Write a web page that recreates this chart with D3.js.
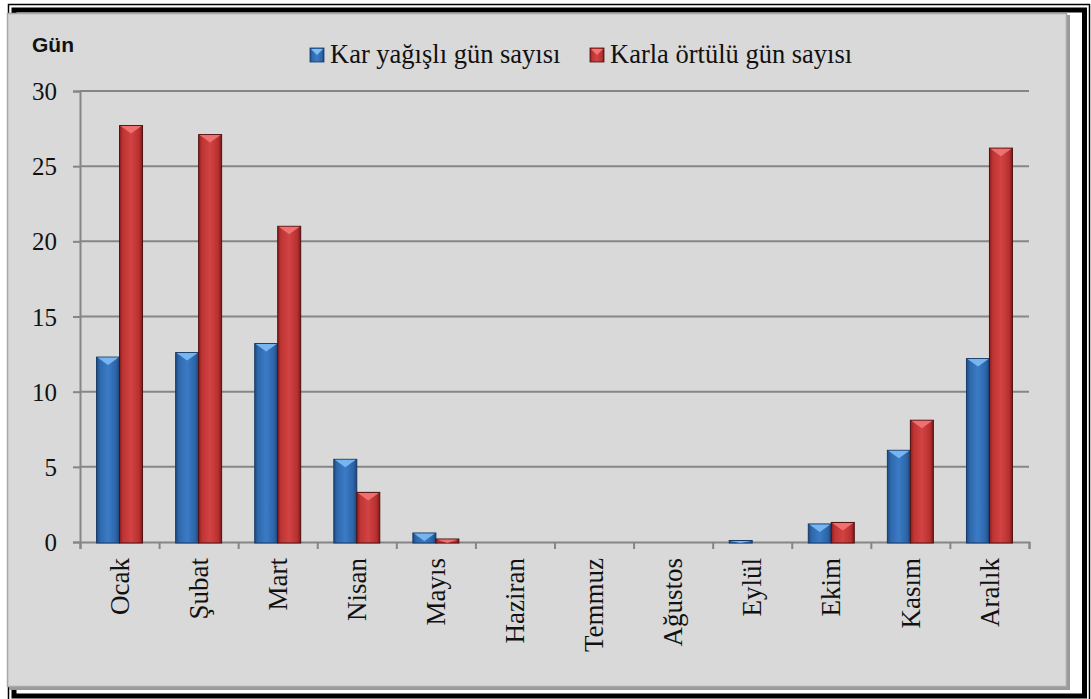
<!DOCTYPE html>
<html>
<head>
<meta charset="utf-8">
<script src="https://cdn.jsdelivr.net/npm/d3@7"></script>
<style>
  html, body { margin: 0; padding: 0; background: #ffffff; }
  svg { display: block; }
  .serif { font-family: "Liberation Serif", "Times New Roman", Tinos, "DejaVu Serif", serif; }
  .sans { font-family: "Liberation Sans", Arial, "DejaVu Sans", sans-serif; }
</style>
</head>
<body>
<div id="chart"></div>
<script>
// data
var months = ["Ocak", "Şubat", "Mart", "Nisan", "Mayıs", "Haziran", "Temmuz", "Ağustos", "Eylül", "Ekim", "Kasım", "Aralık"];
var seriesNames = ["Kar yağışlı gün sayısı", "Karla örtülü gün sayısı"];
var karYagisli = [12.3, 12.6, 13.2, 5.5, 0.6, 0, 0, 0, 0.1, 1.2, 6.1, 12.2];
var karlaOrtulu = [27.7, 27.1, 21.0, 3.3, 0.2, 0, 0, 0, 0, 1.3, 8.1, 26.2];
var yTicks = [0, 5, 10, 15, 20, 25, 30];

var W = 1091, H = 699;
var margin = { top: 91, right: 62, bottom: 157, left: 80 },
    width = W - margin.left - margin.right,
    height = H - margin.top - margin.bottom;

var svg = d3.select("#chart").append("svg")
    .attr("width", W)
    .attr("height", H);

// gradients for the bevelled bars
var defs = svg.append("defs");
var palettes = [
    { id: "gBlue", stops: ["#1d4c86", "#2f69ad", "#3b7bc6", "#2c64a6", "#1b4679"], cap: "#7dbdf5", edge: "#173b66" },
    { id: "gRed", stops: ["#8f1f1f", "#bf3434", "#d24343", "#b83030", "#7d1a1a"], cap: "#f47474", edge: "#4e1010" }
];
palettes.forEach(function (p) {
    var g = defs.append("linearGradient").attr("id", p.id)
        .attr("x1", "0").attr("x2", "1").attr("y1", "0").attr("y2", "0");
    var offs = [0, 0.15, 0.5, 0.85, 1];
    p.stops.forEach(function (c, i) {
        g.append("stop").attr("offset", offs[i]).attr("stop-color", c);
    });
});

// double black page border
svg.append("rect")
    .attr("x", 8.5).attr("y", 4.5).attr("width", 1081).attr("height", 700)
    .attr("fill", "none").attr("stroke", "#000").attr("stroke-width", 1.5);
svg.append("rect")
    .attr("x", 14).attr("y", 10).attr("width", 1070.5).attr("height", 686)
    .attr("fill", "none").attr("stroke", "#000").attr("stroke-width", 5);

// grey chart panel with a bit of shadow
svg.append("rect")
    .attr("x", 9).attr("y", 15).attr("width", 1061).attr("height", 675)
    .attr("fill", "#9a9a9a");
svg.append("rect")
    .attr("x", 7.5).attr("y", 13.5).attr("width", 1059).attr("height", 673)
    .attr("fill", "#d9d9d9").attr("stroke", "#a8a8a8").attr("stroke-width", 1.5);

var g = svg.append("g")
    .attr("transform", "translate(" + margin.left + "," + margin.top + ")");

// scales
var y = d3.scaleLinear().domain([0, 30]).range([height, 0]);
var x0 = d3.scaleBand().domain(months).range([0, width]).paddingInner(0).paddingOuter(0);
var x1 = d3.scaleBand().domain(seriesNames).range([0, x0.bandwidth()]).paddingInner(0).paddingOuter(0.72);
var xIdx = d3.scaleLinear().domain([0, months.length]).range([0, width]);

// gridlines
g.append("g").selectAll("line")
    .data(yTicks.filter(function (d) { return d > 0; }))
    .join("line")
    .attr("x1", 0).attr("x2", width)
    .attr("y1", function (d) { return y(d); })
    .attr("y2", function (d) { return y(d); })
    .attr("stroke", "#868686").attr("stroke-width", 2);

// y axis
var yAxis = g.append("g")
    .call(d3.axisLeft(y).tickValues(yTicks).tickSize(7).tickPadding(16));
yAxis.attr("font-family", null).attr("font-size", null);
yAxis.select(".domain").attr("stroke", "#868686").attr("stroke-width", 2);
yAxis.selectAll(".tick line").attr("stroke", "#868686").attr("stroke-width", 2);
yAxis.selectAll(".tick text")
    .attr("class", "serif")
    .style("font-size", "25px").attr("fill", "#111")
    .attr("dy", "0.34em");

// x axis: ticks at category boundaries
var xAxis = g.append("g")
    .attr("transform", "translate(0," + height + ")")
    .call(d3.axisBottom(xIdx).ticks(months.length).tickSize(7).tickSizeOuter(7).tickFormat(""));
xAxis.select(".domain").attr("stroke", "#868686").attr("stroke-width", 2);
xAxis.selectAll(".tick line").attr("stroke", "#868686").attr("stroke-width", 2);

// month labels, rotated
g.append("g").selectAll("text")
    .data(months)
    .join("text")
    .attr("class", "serif")
    .attr("transform", function (d) {
        return "translate(" + (x0(d) + x0.bandwidth() / 2) + "," + (height + 16) + ") rotate(-90)";
    })
    .attr("text-anchor", "end")
    .attr("dy", "0.34em")
    .style("font-size", "27px")
    .attr("fill", "#111")
    .text(function (d) { return d; });

// bars
var series = [karYagisli, karlaOrtulu];
series.forEach(function (vals, si) {
    var pal = palettes[si];
    var name = seriesNames[si];
    var bw = x1.bandwidth();
    var grp = g.append("g");
    months.forEach(function (m, i) {
        var v = vals[i];
        if (!(v > 0)) return;
        var bx = x0(m) + x1(name);
        var top = y(v);
        var h = y(0) - top + 1;
        grp.append("rect")
            .attr("x", bx).attr("y", top)
            .attr("width", bw).attr("height", h)
            .attr("fill", "url(#" + pal.id + ")")
            .attr("stroke", pal.edge).attr("stroke-width", 1);
        var capH = Math.min(8, h);
        grp.append("path")
            .attr("d", "M" + (bx + 1) + "," + (top + 0.5) +
                "L" + (bx + bw - 1) + "," + (top + 0.5) +
                "L" + (bx + bw / 2) + "," + (top + capH) + "Z")
            .attr("fill", pal.cap).attr("opacity", 0.9);
    });
});

// axis title
svg.append("text")
    .attr("class", "sans")
    .attr("x", 32).attr("y", 52)
    .style("font-weight", "bold")
    .style("font-size", "21px")
    .attr("fill", "#111")
    .text("Gün");

// legend
var legendX = [310, 590];
seriesNames.forEach(function (name, i) {
    var pal = palettes[i];
    var lg = svg.append("g").attr("transform", "translate(" + legendX[i] + ",48)");
    lg.append("rect")
        .attr("x", 0).attr("y", 0).attr("width", 14).attr("height", 14)
        .attr("fill", "url(#" + pal.id + ")")
        .attr("stroke", pal.edge).attr("stroke-width", 0.8);
    lg.append("path")
        .attr("d", "M1,1L13,1L7,7Z")
        .attr("fill", pal.cap);
    lg.append("text")
        .attr("class", "serif")
        .attr("x", 20).attr("y", 15)
        .style("font-size", "26.5px")
        .attr("fill", "#111")
        .text(name);
});
</script>
</body>
</html>
